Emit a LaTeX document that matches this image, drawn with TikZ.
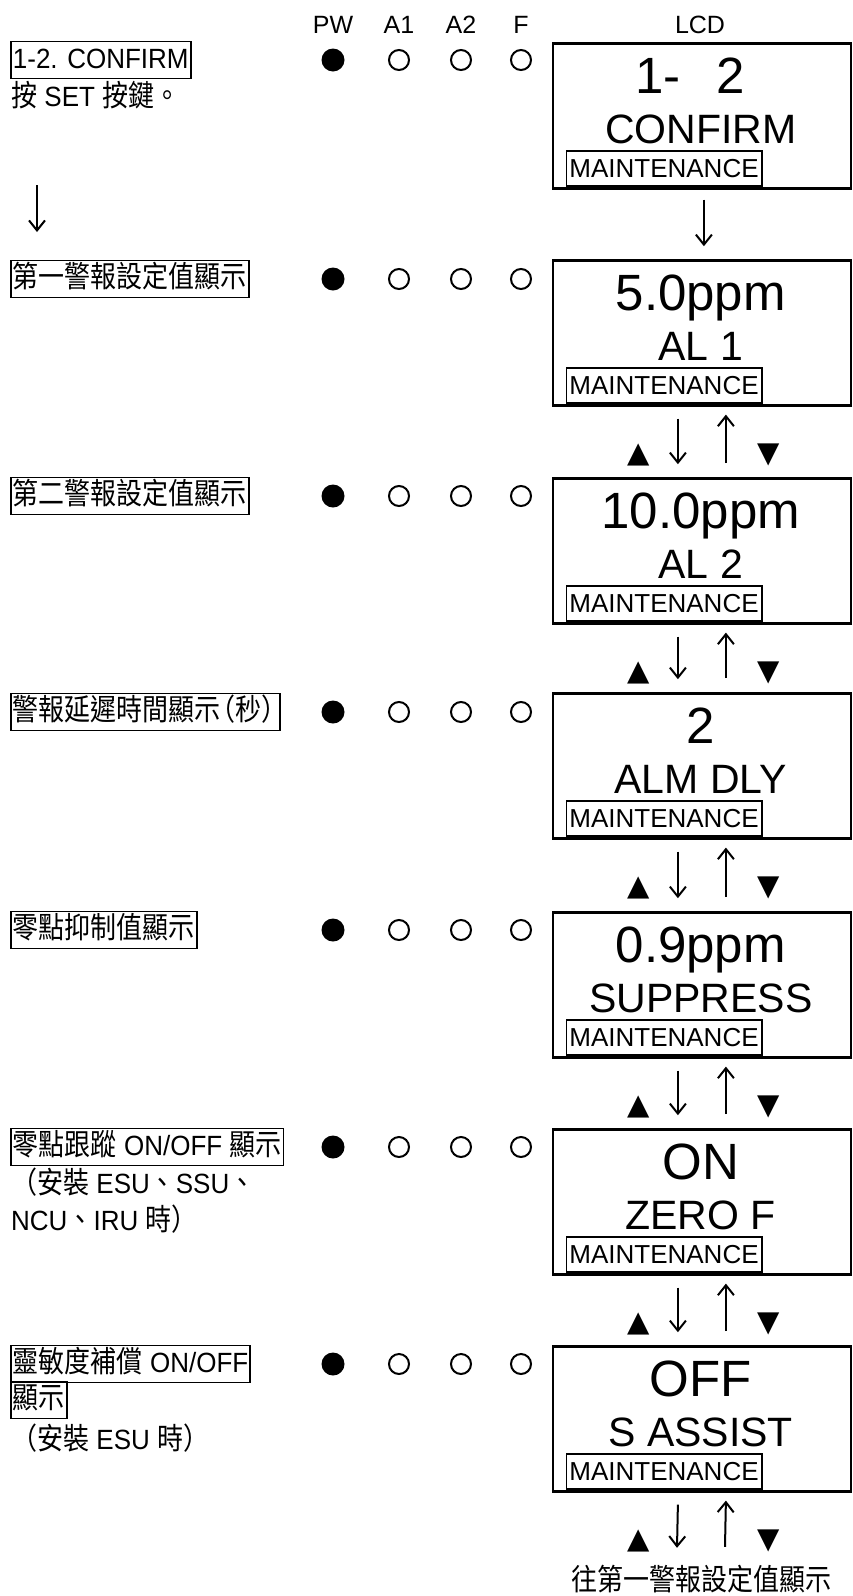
\documentclass[tikz,border=0pt]{standalone}
\usepackage{fontspec}
\usepackage{graphicx}
\setmainfont{Liberation Sans}
\newfontfamily\cjk{Noto Sans CJK TC}
\newfontfamily\dejavu{DejaVu Sans}
\usetikzlibrary{arrows.meta}
\newcommand\zh[1]{\scalebox{1}[1.15]{\cjk #1}}
\newcommand\la[1]{\scalebox{1}[1.07]{#1}}

\tikzset{
 lbl/.style={draw, line width=1.8pt, anchor=west, font=\fontsize{26}{30}\selectfont, inner xsep=2pt, inner ysep=4.5pt, text height=22pt, text depth=6pt},
 plain/.style={anchor=base west, font=\fontsize{26}{30}\selectfont, inner sep=0pt},
 hdr/.style={anchor=base, font=\fontsize{25}{30}\selectfont, inner sep=0pt},
 lcdbox/.style={draw, line width=2.4pt, minimum width=298pt, minimum height=145pt, anchor=north west, inner sep=0pt},
 big/.style={anchor=base, font=\fontsize{51}{60}\selectfont, inner sep=0pt},
 mid/.style={anchor=base, font=\fontsize{41}{50}\selectfont, inner sep=0pt},
 maint/.style={draw, line width=1.8pt, anchor=south west, font=\fontsize{26}{30}\selectfont, inner xsep=3pt, inner ysep=0pt, minimum height=35pt, text height=18.6pt, text depth=0pt},
 ledon/.style={circle, fill, inner sep=0pt, minimum size=23pt},
 ledoff/.style={circle, draw, line width=2pt, inner sep=0pt, minimum size=20pt},
 arr/.style={line width=2pt, -{Straight Barb[length=10pt,width=16pt]}},
 tri/.style={anchor=base, font={\dejavu\fontsize{29}{30}\selectfont}, inner sep=0pt},
 note/.style={anchor=base, font=\fontsize{26}{30}\selectfont, inner sep=0pt, text height=29pt},
}

\newcommand\lcdrow[4]{%
 \node[lcdbox] (lcd#1) at (551.7,#2+1.2) {};
 \node[big] (lcd#1a) at (700.75,#2+52) {#3};
 \node[mid] (lcd#1b) at (700.75,#2+102) {#4};
 \node[maint] (lcd#1m) at (565.5,#2+146) {MAINTENANCE};
}
\newcommand\ledrow[2]{%
 \node[ledon] (led#1pw) at (333,#2) {};
 \node[ledoff] (led#1aa) at (399,#2) {};
 \node[ledoff] (led#1ab) at (461,#2) {};
 \node[ledoff] (led#1f) at (521,#2) {};
}
\newcommand\pairarrows[3]{%
 \draw[arr] ([xshift=-24pt,yshift=-12pt]#1.south) -- ([xshift=-24pt,yshift=13pt]#2.north);
 \draw[arr] ([xshift=24pt,yshift=14pt]#2.north) -- ([xshift=24pt,yshift=-8pt]#1.south);
 \node[tri] (tu#3) at ([xshift=-63pt,yshift=-56pt]#1.south) {▲};
 \node[tri] (td#3) at ([xshift=67pt,yshift=-56pt]#1.south) {▼};
}

\begin{document}
\begin{tikzpicture}[x=1pt,y=-1pt]
\useasboundingbox (0,0) rectangle (853,1596);

% headers
\node[hdr] (hpw) at (333,33) {PW};
\node[hdr] (ha1) at (399,33) {A1};
\node[hdr] (ha2) at (461,33) {A2};
\node[hdr] (hf) at (521,33) {F};
\node[hdr] (hlcd) at (700,33) {LCD};

% row 1
\node[lbl] (lab1) at (10,60) {\la{1-2. CONFIRM}};
\node[plain] (sub1) at (11,106) {\zh{按} \la{SET} \zh{按鍵。}};
\ledrow{1}{60}
\lcdrow{1}{41}{}{CONFIRM}
\node[big] (lcd1n) at (690,93) {1-\hspace{0.7em}2};
\coordinate (la) at (37,185);
\coordinate (lb) at (37,232);
\draw[arr] (la) -- (lb);

% row 2
\node[lbl] (lab2) at (10,279) {\zh{第一警報設定值顯示}};
\ledrow{2}{279}
\lcdrow{2}{258}{5.0ppm}{AL 1}
\draw[arr] ([xshift=2pt,yshift=-10pt]lcd1.south) -- ([xshift=2pt,yshift=13pt]lcd2.north);

% row 3
\node[lbl] (lab3) at (10,496) {\zh{第二警報設定值顯示}};
\ledrow{3}{496}
\lcdrow{3}{476}{10.0ppm}{AL 2}

% row 4
\node[lbl] (lab4) at (10,712) {\zh{警報延遲時間顯示\kern-11pt（秒）\kern-10pt}};
\ledrow{4}{712}
\lcdrow{4}{691}{2}{ALM DLY}

% row 5
\node[lbl] (lab5) at (10,930) {\zh{零點抑制值顯示}};
\ledrow{5}{930}
\lcdrow{5}{910}{0.9ppm}{SUPPRESS}

% row 6
\node[lbl] (lab6) at (10,1147) {\zh{零點跟蹤} \la{ON/OFF} \zh{顯示}};
\node[plain] (sub6a) at (11,1193) {\zh{（安裝} \la{ESU}\zh{、}\la{SSU}\zh{、}};
\node[plain] (sub6b) at (11,1230) {\la{NCU}\zh{、}\la{IRU} \zh{時）}};
\ledrow{6}{1147}
\lcdrow{6}{1127}{ON}{ZERO F}

% row 7
\node[lbl] (lab7) at (10,1364) {\zh{靈敏度補償} \la{ON/OFF}};
\node[lbl] (lab7b) at (10,1400) {\zh{顯示}};
\node[plain] (sub7) at (11,1449) {\zh{（安裝} \la{ESU} \zh{時）}};
\ledrow{7}{1364}
\lcdrow{7}{1344}{OFF}{S ASSIST}

% note
\node[note] (back) at (701,1590) {\zh{往第一警報設定值顯示}};

% up/down arrows
\pairarrows{lcd2}{lcd3}{2}
\pairarrows{lcd3}{lcd4}{3}
\pairarrows{lcd4}{lcd5}{4}
\pairarrows{lcd5}{lcd6}{5}
\pairarrows{lcd6}{lcd7}{6}
\pairarrows{lcd7}{back}{7}
\end{tikzpicture}
\end{document}
